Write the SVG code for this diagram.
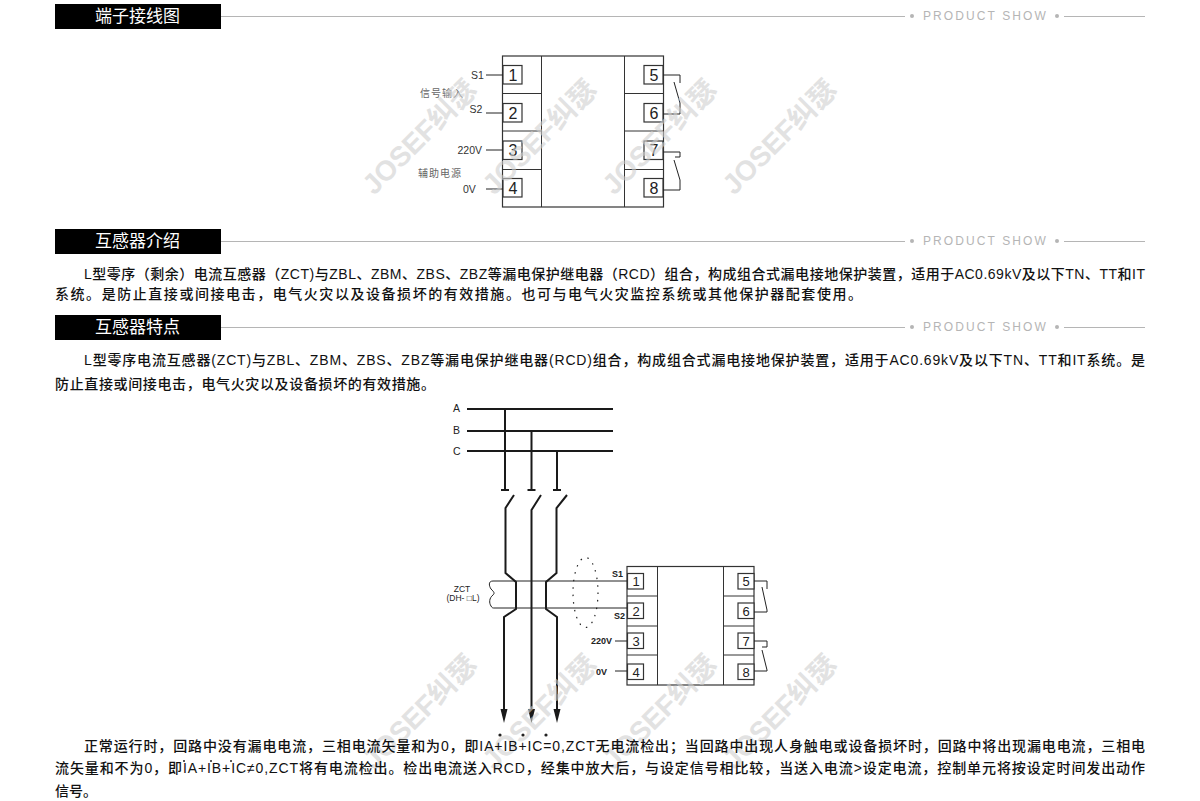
<svg xmlns="http://www.w3.org/2000/svg" width="1200" height="801" viewBox="0 0 1200 801">
<defs>
<style>
text{font-family:"Liberation Sans","Noto Sans CJK SC",sans-serif}
.b{font-family:"Liberation Sans","Noto Sans CJK SC",sans-serif;font-weight:500;font-size:14px;fill:#111}
.h{font-family:"Noto Sans CJK SC",sans-serif;font-size:17px;fill:#fff}
.p{font-family:"Liberation Sans",sans-serif;font-size:12px;fill:#b5b5b5;letter-spacing:2.1px}
.g{stroke:#b5b5b5;stroke-width:1;fill:none}
.gd{fill:#b5b5b5}
.w{font-family:"Liberation Sans","Noto Sans CJK SC",sans-serif;font-weight:700;font-size:28px;fill:#cfcfcf;opacity:.6}
.l{stroke:#222;stroke-width:1;fill:none}
.m{stroke:#1a1a1a;stroke-width:2;fill:none}
.box{fill:#fff;stroke:#333;stroke-width:1.2}
.n{font-size:16px;fill:#222;text-anchor:middle}
.n2{font-size:13px;fill:#222;text-anchor:middle}
.t{font-size:10.500px;fill:#333}
.t2{font-size:9px;fill:#222;font-weight:700}
.c{font-family:"Noto Sans CJK SC",sans-serif;font-size:10px;fill:#666;letter-spacing:1px}
.lab{font-size:10.500px;fill:#222}
.z{font-size:8.500px;fill:#222;text-anchor:middle}
</style>
<g id="wm"><text class="w" transform="rotate(-45)" x="0" y="0">JOSEF纠瑟</text></g>
</defs>
<rect width="1200" height="801" fill="#fff"/>
<g id="header1">
<rect x="55" y="4" width="166" height="25" fill="#000"/>
<text class="h" x="95" y="22">端子接线图</text>
<path class="g" d="M221 16.500H905M1064 16.500H1145"/><circle class="gd" cx="912" cy="16" r="2"/><circle class="gd" cx="1057" cy="16" r="2"/>
<text class="p" x="923" y="20">PRODUCT SHOW</text>
</g>
<g id="header2">
<rect x="55" y="229" width="166" height="25" fill="#000"/>
<text class="h" x="95" y="247">互感器介绍</text>
<path class="g" d="M221 241.500H905M1064 241.500H1145"/><circle class="gd" cx="912" cy="241" r="2"/><circle class="gd" cx="1057" cy="241" r="2"/>
<text class="p" x="923" y="245">PRODUCT SHOW</text>
</g>
<g id="header3">
<rect x="55" y="315" width="166" height="25" fill="#000"/>
<text class="h" x="95" y="333">互感器特点</text>
<path class="g" d="M221 327.500H905M1064 327.500H1145"/><circle class="gd" cx="912" cy="327" r="2"/><circle class="gd" cx="1057" cy="327" r="2"/>
<text class="p" x="923" y="331">PRODUCT SHOW</text>
</g>
<g id="device-top">
<rect x="502.500" y="56" width="161" height="151" fill="none" stroke="#333" stroke-width="1.200"/>
<path d="M541.500 56V207M624.500 56V207M502 93.500H541.500M502 131H541.500M502 169.500H541.500M624.500 93.500H663M624.500 131H663M624.500 169.500H663" stroke="#333" stroke-width="1" fill="none"/>
<g id="t1"><rect class="box" x="503" y="65.500" width="19" height="18.500"/><text class="n" x="513" y="80.500">1</text></g>
<g id="t2"><rect class="box" x="503" y="103.500" width="19" height="18.500"/><text class="n" x="513" y="118.500">2</text></g>
<g id="t3"><rect class="box" x="503" y="141" width="19" height="18.500"/><text class="n" x="513" y="156">3</text></g>
<g id="t4"><rect class="box" x="503" y="178.500" width="19" height="18.500"/><text class="n" x="513" y="193.500">4</text></g>
<g id="t5"><rect class="box" x="644" y="65.500" width="19" height="18.500"/><text class="n" x="654" y="80.500">5</text></g>
<g id="t6"><rect class="box" x="644" y="103.500" width="19" height="18.500"/><text class="n" x="654" y="118.500">6</text></g>
<g id="t7"><rect class="box" x="644" y="141" width="19" height="18.500"/><text class="n" x="654" y="156">7</text></g>
<g id="t8"><rect class="box" x="644" y="178.500" width="19" height="18.500"/><text class="n" x="654" y="193.500">8</text></g>
<text class="t" x="471" y="78.500">S1</text><text class="t" x="469.500" y="112.500">S2</text><text class="t" x="457.500" y="154">220V</text><text class="t" x="463" y="193">0V</text>
<text class="c" x="420" y="97">信号输入</text><text class="c" x="418" y="177">辅助电源</text>
</g>
<g id="device-bottom">
<rect x="627" y="566.500" width="127" height="118.500" fill="none" stroke="#333" stroke-width="1.200"/>
<path d="M657.500 566.500V685M723.500 566.500V685M627 596H657.500M627 626H657.500M627 655H657.500M723.500 596H754M723.500 626H754M723.500 655H754" stroke="#333" stroke-width="1" fill="none"/>
<g id="b1"><rect class="box" x="627.500" y="573.500" width="16" height="15.500"/><text class="n2" x="636" y="586">1</text></g>
<g id="b2"><rect class="box" x="627.500" y="603" width="16" height="15.500"/><text class="n2" x="636" y="615.500">2</text></g>
<g id="b3"><rect class="box" x="627.500" y="633" width="16" height="15.500"/><text class="n2" x="636" y="645.500">3</text></g>
<g id="b4"><rect class="box" x="627.500" y="664" width="16" height="15.500"/><text class="n2" x="636" y="676.500">4</text></g>
<g id="b5"><rect class="box" x="738" y="573.500" width="16" height="15.500"/><text class="n2" x="746" y="586">5</text></g>
<g id="b6"><rect class="box" x="738" y="603" width="16" height="15.500"/><text class="n2" x="746" y="615.500">6</text></g>
<g id="b7"><rect class="box" x="738" y="633" width="16" height="15.500"/><text class="n2" x="746" y="645.500">7</text></g>
<g id="b8"><rect class="box" x="738" y="664" width="16" height="15.500"/><text class="n2" x="746" y="676.500">8</text></g>
<text class="t2" x="612" y="577">S1</text><text class="t2" x="614" y="619">S2</text><text class="t2" x="591" y="644">220V</text><text class="t2" x="596" y="675">0V</text>
<text class="z" x="462" y="592">ZCT</text><text class="z" x="463" y="601">(DH- □L)</text>
<text class="lab" x="453" y="412">A</text><text class="lab" x="453" y="434">B</text><text class="lab" x="453" y="455">C</text>
</g>
<g id="connectors">
<path class="l" d="M486 75H503M486 113H503M486 150H503M486 189H503"/>
<path class="l" d="M663 75H680V83M674 82L680 103V114H663M663 152H680V157H675M674 160L680 180V190H663"/>
<path class="l" d="M615 641H627M615 671H627"/>
<path class="l" d="M754 581H767V589M762 587L767 610V612H754M754 641H767V647H762M762 650L767 670V671H754"/>
<path class="m" d="M467 409H613M467 431H613M467 451H613"/>
<path class="m" d="M505 409V490M531.500 431V490M557 451V490M501 490H509M527.500 490H535.500M553 490H561"/>
<path class="m" d="M514 495L505.500 508V573L516 582V609L504 617V712"/>
<path class="m" d="M541 495L531.500 510V712"/>
<path class="m" d="M567 495L556.500 508V573L546 582V609L557 617V712"/>
<path d="M500.500 709H507.500L504 723ZM528 709H535L531.500 723ZM553.500 709H560.500L557 723Z" fill="#1a1a1a"/>
<path class="l" d="M627 581H493C488 581 489 586 491 589C494 592 495 593 493 595C489 598 489 603 491 606C492 608 493 608 494 608H627" stroke-width="1.300"/>
<ellipse cx="585.500" cy="592.500" rx="12.500" ry="35" fill="none" stroke="#222" stroke-width="1.200" stroke-dasharray="1.500 6"/>
</g>
<g id="watermarks">
<use href="#wm" x="374" y="196"/><use href="#wm" x="494" y="196"/><use href="#wm" x="614" y="196"/><use href="#wm" x="734" y="196"/>
<use href="#wm" x="374" y="771"/><use href="#wm" x="494" y="771"/><use href="#wm" x="614" y="771"/><use href="#wm" x="734" y="771"/>
</g>
<g id="paragraphs">
<text class="b" x="84" y="279" textLength="1061" lengthAdjust="spacing">L型零序（剩余）电流互感器（ZCT)与ZBL、ZBM、ZBS、ZBZ等漏电保护继电器（RCD）组合，构成组合式漏电接地保护装置，适用于AC0.69kV及以下TN、TT和IT</text>
<text class="b" x="55" y="299" textLength="807" lengthAdjust="spacing">系统。是防止直接或间接电击，电气火灾以及设备损坏的有效措施。也可与电气火灾监控系统或其他保护器配套使用。</text>
<text class="b" x="84" y="365" textLength="1061" lengthAdjust="spacing">L型零序电流互感器(ZCT)与ZBL、ZBM、ZBS、ZBZ等漏电保护继电器(RCD)组合，构成组合式漏电接地保护装置，适用于AC0.69kV及以下TN、TT和IT系统。是</text>
<text class="b" x="55" y="389" textLength="380" lengthAdjust="spacing">防止直接或间接电击，电气火灾以及设备损坏的有效措施。</text>
<text class="b" x="84" y="751" textLength="1061" lengthAdjust="spacing">正常运行时，回路中没有漏电电流，三相电流矢量和为0，即IA+IB+IC=0,ZCT无电流检出；当回路中出现人身触电或设备损坏时，回路中将出现漏电电流，三相电</text>
<text class="b" x="55" y="773" textLength="1090" lengthAdjust="spacing">流矢量和不为0，即IA+IB+IC≠0,ZCT将有电流检出。检出电流送入RCD，经集中放大后，与设定信号相比较，当送入电流&gt;设定电流，控制单元将按设定时间发出动作</text>
<text class="b" x="55" y="796">信号。</text>
<g fill="#222"><circle cx="500" cy="735" r="1.6"/><circle cx="523" cy="735" r="1.6"/><circle cx="546" cy="735" r="1.6"/>
<circle cx="184" cy="761" r="1"/><circle cx="211" cy="761" r="1"/><circle cx="231" cy="761" r="1"/></g>
</g>
</svg>
